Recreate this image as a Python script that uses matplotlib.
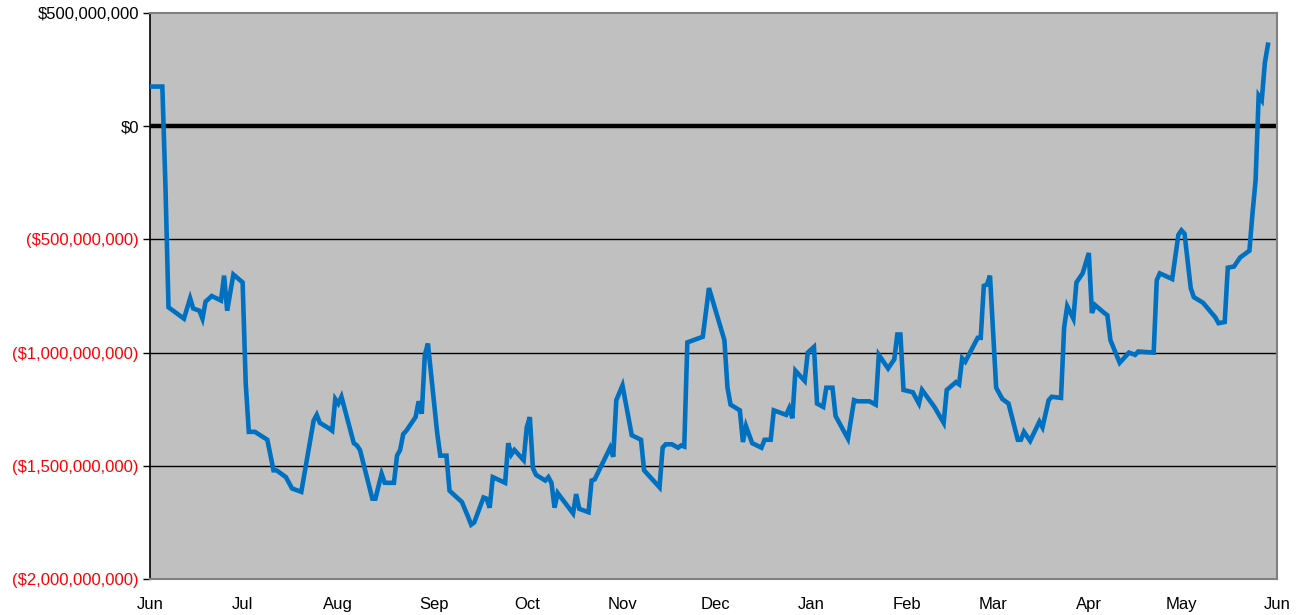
import numpy as np
import matplotlib
matplotlib.use("Agg")
import matplotlib.pyplot as plt
import matplotlib.dates as mdates

plt.rcParams['font.family'] = ['Liberation Sans', 'DejaVu Sans']

# days since 1 Jun 2008, cumulative value in $ millions
days = [0, 4, 5, 6, 11, 13, 14, 16, 17, 18, 20, 23, 24, 25, 27, 30, 31, 32, 34, 38,
        40, 41, 44, 46, 48, 49, 53, 54, 55, 58, 59, 60, 61, 62, 66, 67, 68, 72, 73, 75,
        76, 79, 80, 81, 82, 83, 86, 87, 88, 89, 90, 93, 94, 96, 97, 101, 103, 104, 105, 108,
        109, 110, 111, 115, 116, 117, 118, 121, 122, 123, 124, 125, 128, 129, 130, 131, 132, 137, 138, 139,
        142, 143, 144, 149, 150, 151, 153, 156, 159, 160, 165, 166, 167, 169, 171, 172, 173, 174, 179, 181,
        186, 187, 188, 191, 192, 193, 195, 198, 199, 201, 202, 206, 207, 208, 209, 212, 213, 215, 216, 218,
        219, 221, 222, 226, 228, 229, 233, 235, 236, 239, 241, 242, 243, 244, 247, 249, 250, 254, 257, 258,
        261, 262, 263, 264, 268, 269, 270, 271, 272, 274, 276, 278, 281, 282, 283, 285, 288, 289, 291, 292,
        295, 296, 297, 299, 300, 302, 304, 305, 306, 309, 310, 311, 314, 317, 318, 319, 320, 325, 326, 327,
        331, 333, 334, 335, 337, 338, 341, 345, 346, 348, 349, 351, 353, 356, 357, 358, 359, 360, 361, 362]
values = [175, 175, -260, -800, -850, -760, -805, -815, -850, -775, -750, -770, -660, -815, -655, -690, -1135, -1350, -1350, -1385,
          -1520, -1520, -1550, -1600, -1610, -1615, -1300, -1275, -1310, -1335, -1345, -1205, -1225, -1195, -1400, -1410, -1430, -1645, -1645, -1535,
          -1575, -1575, -1455, -1430, -1360, -1345, -1285, -1215, -1270, -1010, -960, -1355, -1455, -1455, -1610, -1660, -1725, -1760, -1750, -1640,
          -1645, -1685, -1550, -1575, -1400, -1450, -1430, -1475, -1330, -1285, -1510, -1540, -1565, -1550, -1575, -1685, -1620, -1710, -1625, -1690,
          -1705, -1565, -1560, -1420, -1460, -1210, -1145, -1365, -1385, -1520, -1595, -1420, -1405, -1405, -1420, -1410, -1415, -955, -930, -715,
          -945, -1155, -1230, -1255, -1395, -1325, -1400, -1420, -1385, -1385, -1255, -1275, -1245, -1290, -1080, -1125, -1000, -975, -1225, -1240,
          -1155, -1155, -1280, -1380, -1210, -1215, -1215, -1230, -1010, -1070, -1030, -920, -920, -1165, -1175, -1225, -1165, -1240, -1310, -1165,
          -1130, -1140, -1025, -1040, -935, -935, -705, -700, -660, -1155, -1205, -1225, -1385, -1385, -1350, -1390, -1305, -1330, -1210, -1195,
          -1200, -890, -795, -850, -690, -650, -560, -825, -790, -825, -835, -945, -1045, -1000, -1005, -1010, -995, -1000, -680, -650,
          -675, -480, -460, -475, -715, -755, -780, -845, -870, -865, -625, -620, -580, -550, -385, -240, 135, 115, 280, 360]

y_ticks = [500, 0, -500, -1000, -1500, -2000]

start = np.datetime64('2008-06-01')
dates = start + np.array(days).astype('timedelta64[D]')

fig = plt.figure(figsize=(13.03, 6.15), dpi=100)
ax = fig.add_axes([0.1151, 0.0585, 0.8651, 0.9204])
ax.set_facecolor('#C0C0C0')

for t in y_ticks:
    if t == 0:
        ax.axhline(0, color='black', lw=3.2, zorder=2)
    elif -2000 < t < 500:
        ax.axhline(t, color='black', lw=1.0, zorder=1)

ax.plot(dates, values, color='#0070C0', lw=3.3, solid_joinstyle='miter', zorder=3)

ax.set_xlim(start, np.datetime64('2009-06-01'))
ax.set_ylim(-2000, 500)
ax.xaxis.set_major_locator(mdates.MonthLocator())
ax.xaxis.set_major_formatter(mdates.DateFormatter('%b'))
ax.tick_params(axis='x', length=0, pad=13, labelsize=12)

def money(v):
    s = '${:,.0f}'.format(abs(v) * 1e6)
    return '(' + s + ')' if v < 0 else s

ax.set_yticks(y_ticks)
ax.set_yticklabels([money(v) for v in y_ticks])
ax.tick_params(axis='y', length=5, width=1, pad=3, labelsize=12)
for lbl, v in zip(ax.get_yticklabels(), y_ticks):
    lbl.set_color('red' if v < 0 else 'black')

ax.spines['left'].set_color('black')
ax.spines['left'].set_linewidth(1.2)
for s in ['top', 'right', 'bottom']:
    ax.spines[s].set_color('#808080')
    ax.spines[s].set_linewidth(1.5)

fig.savefig('out.png', dpi=100)
